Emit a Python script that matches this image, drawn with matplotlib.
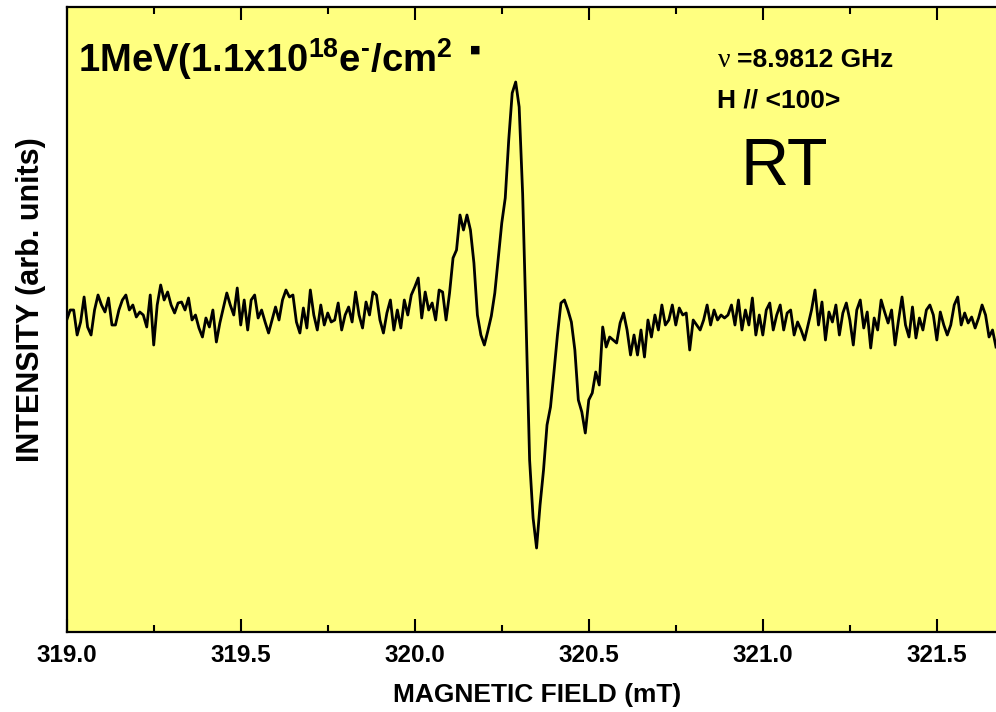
import numpy as np
import matplotlib
matplotlib.use("Agg")
import matplotlib.pyplot as plt
from matplotlib.ticker import MultipleLocator, NullLocator, FormatStrFormatter

plt.rcParams['font.family'] = ['Liberation Sans', 'DejaVu Sans']
plt.rcParams['mathtext.fontset'] = 'custom'
plt.rcParams['mathtext.rm'] = 'Liberation Sans:bold'
plt.rcParams['mathtext.bf'] = 'Liberation Sans:bold'

# развёртка поля (мТл): старт и шаг
field_start = 319.00
field_step = 0.01

# сигнал ЭПР (отн. ед.)
intensity = [
    -2, 8, 8, -17, -4, 21, -9, -17, 8, 23,
    13, 6, 20, -7, -7, 8, 18, 23, 8, 13,
    1, 6, 3, -9, 23, -27, 13, 33, 18, 26,
    13, 5, 15, 16, 8, 20, -2, 3, -10, -19,
    0, -9, 8, -24, -5, 10, 25, 13, 3, 30,
    -7, 18, -12, 18, 23, 0, 8, -4, -15, -2,
    11, -2, 18, 28, 21, 23, -4, -15, 10, -10,
    28, 3, -12, 13, -7, 5, -4, -2, 15, -12,
    3, 11, -4, 26, 3, -10, 16, 3, 26, 23,
    -2, -15, 5, 18, -12, 8, -10, 18, 3, 23,
    31, 40, 0, 26, 8, 15, -2, 28, 26, -2,
    25, 60, 68, 103, 88, 103, 88, 55, 3, -17,
    -27, -13, 2, 25, 60, 95, 120, 178, 225, 236,
    211, 124, -6, -142, -200, -230, -187, -152, -107, -89,
    -54, -17, 15, 18, 8, -4, -32, -82, -94, -115,
    -82, -75, -54, -67, -9, -29, -19, -22, -25, -5,
    5, -12, -37, -17, -37, -12, -39, -2, -19, 3,
    -12, 13, -7, -2, 13, -7, 10, 3, 5, -32,
    -2, -7, -12, -2, 13, -7, 8, -2, 3, 0,
    3, 13, -7, 18, -12, 8, -7, 20, -17, 3,
    -17, 8, 15, -12, 3, 13, -12, 5, 8, -17,
    -4, -12, -22, -7, 8, 28, -7, 16, -22, 6,
    -4, 13, -17, 5, 15, -2, -27, 8, 18, -10,
    6, -30, 0, -12, 18, 6, -5, 8, -27, -2,
    21, -7, -19, 11, -20, 0, -12, 8, 13, 3,
    -22, 6, -7, -17, -7, 13, 21, -7, 5, -5,
    1, -10, 0, 13, 3, -19, -12, -29,
]

field = field_start + field_step * np.arange(len(intensity))

W, H = 996, 712
fig = plt.figure(figsize=(W / 100, H / 100), dpi=100)
ax = fig.add_axes([66.7 / W, 1 - 632 / H, 1 - 66.7 / W, (632 - 7) / H])
ax.set_facecolor('#ffff80')

ax.plot(field, intensity, color='black', lw=2.0)

ax.set_xlim(319.0, 321.67)
ax.set_ylim(-314, 311)

# оси
ax.spines['right'].set_visible(False)
for s in ['left', 'bottom', 'top']:
    ax.spines[s].set_linewidth(1.6)
ax.xaxis.set_major_locator(MultipleLocator(0.5))
ax.xaxis.set_minor_locator(MultipleLocator(0.25))
ax.xaxis.set_major_formatter(FormatStrFormatter('%.1f'))
ax.yaxis.set_major_locator(NullLocator())
ax.tick_params(axis='x', which='major', direction='in', length=9.5, width=1.5,
               top=True, pad=9, labelsize=17.5)
ax.tick_params(axis='x', which='minor', direction='in', length=5, width=1.5, top=True)
for lab in ax.get_xticklabels():
    lab.set_fontweight('bold')

fig.text(537 / W, 1 - 695 / H, 'MAGNETIC FIELD (mT)', ha='center', va='center',
         fontsize=19, fontweight='bold')
fig.text(31 / W, 1 - 300 / H, 'INTENSITY (arb. units)', ha='center', va='center',
         rotation=90, fontsize=22, fontweight='bold')

# подписи внутри графика
fig.text(78 / W, 1 - 72 / H,
         r'1MeV(1.1x10$^{\mathbf{18}}$e$^{\text{-}}$/cm$^{\mathbf{2}}$',
         fontsize=27.5, fontweight='bold', va='baseline')
fig.text(470 / W, 1 - 53 / H, '■', fontsize=8, va='baseline',
         family=['DejaVu Sans'])
fig.text(718 / W, 1 - 67 / H, 'ν', fontsize=20, family=['Liberation Serif'],
         va='baseline')
fig.text(737 / W, 1 - 67 / H, '=8.9812 GHz', fontsize=19, fontweight='bold',
         va='baseline')
fig.text(717 / W, 1 - 107 / H, 'H // <100>', fontsize=19, fontweight='bold',
         va='baseline')
fig.text(740 / W, 1 - 185 / H, 'RT', fontsize=48, va='baseline')

fig.savefig('out.png', dpi=100)
